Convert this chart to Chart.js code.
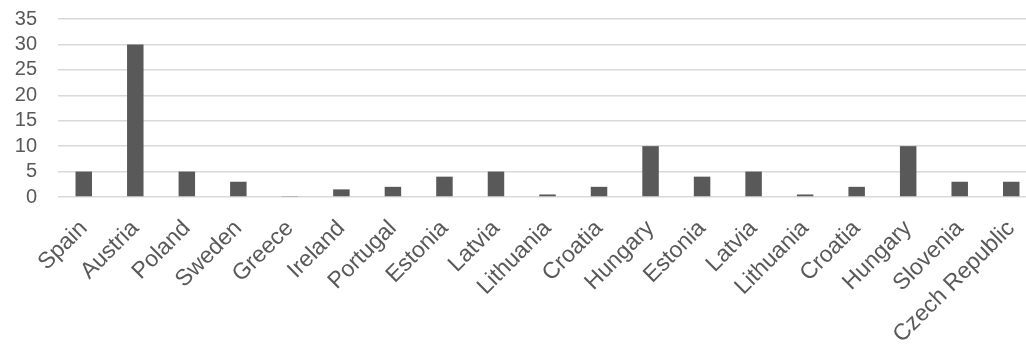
<!DOCTYPE html>
<html>
<head>
<meta charset="utf-8">
<script src="https://cdn.jsdelivr.net/npm/chart.js@4/dist/chart.umd.min.js"></script>
<style>
  html, body { margin: 0; padding: 0; background: #fff; overflow: hidden; }
  #wrap { width: 1037px; height: 344px; position: relative; }
</style>
</head>
<body>
<div id="wrap"><canvas id="chart"></canvas></div>
<script>
// ─── DATA ────────────────────────────────────────────────────────────────
const countries = ['Spain', 'Austria', 'Poland', 'Sweden', 'Greece', 'Ireland', 'Portugal', 'Estonia', 'Latvia',
  'Lithuania', 'Croatia', 'Hungary', 'Estonia', 'Latvia', 'Lithuania', 'Croatia', 'Hungary', 'Slovenia', 'Czech Republic'];
const values = [5, 30, 5, 3, 0.2, 1.5, 2, 4, 5, 0.5, 2, 10, 4, 5, 0.5, 2, 10, 3, 3];
const yTicks = [0, 5, 10, 15, 20, 25, 30, 35];

const TEXT = '#595959';
const GRID = '#d9d9d9';
const FAMILY = "'Liberation Sans', Arial, sans-serif";

new Chart(document.getElementById('chart'), {
  type: 'bar',
  data: {
    labels: countries,
    datasets: [{ data: values, backgroundColor: '#595959', categoryPercentage: 1, barPercentage: 0.32 }]
  },
  options: {
    responsive: true,
    maintainAspectRatio: false,
    animation: false,
    layout: { padding: { top: 19, left: 0, right: 0, bottom: 0 } },
    plugins: { legend: { display: false }, tooltip: { enabled: false } },
    scales: {
      x: {
        grid: { display: false },
        border: { display: false },
        ticks: { color: TEXT, font: { family: FAMILY, size: 23 }, minRotation: 45, maxRotation: 45, autoSkip: false, padding: 10 },
        afterFit: s => { s.height = 147; s.paddingRight = 0; s.paddingLeft = 0; s.paddingTop = 0; }
      },
      y: {
        min: 0, max: 35,
        afterBuildTicks: s => { s.ticks = yTicks.map(v => ({ value: v })); },
        grid: { color: GRID, lineWidth: 1.5, drawTicks: false },
        border: { display: false },
        ticks: { color: TEXT, font: { family: FAMILY, size: 20 }, padding: 21, autoSkip: false },
        afterFit: s => { s.width = 58; s.paddingTop = 0; s.paddingBottom = 0; }
      }
    }
  }
});
</script>
</body>
</html>
